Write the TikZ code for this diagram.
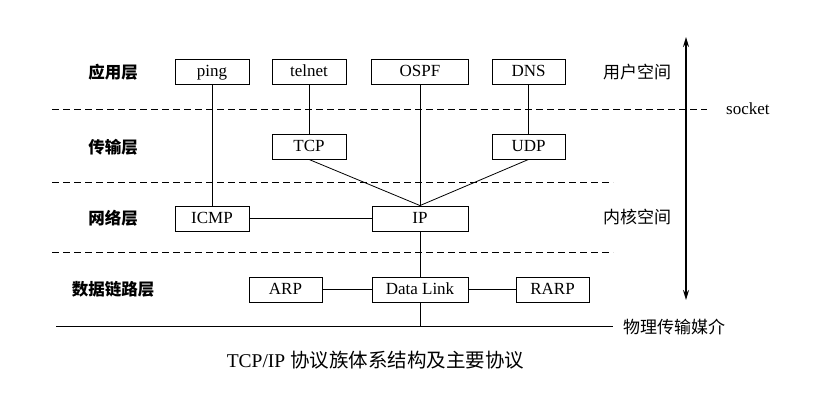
\documentclass[tikz,border=0pt]{standalone}
\usepackage{fontspec}
\setmainfont{Liberation Serif}
\newfontfamily\cjk{Noto Sans CJK SC}
\usetikzlibrary{arrows.meta}
\tikzset{
  proto/.style={draw, line width=0.9pt, minimum height=25pt, minimum width=74pt, inner sep=0pt,
    text height=14pt, text depth=3.6pt, font=\fontsize{17}{20}\selectfont},
  layer/.style={font=\cjk\bfseries\fontsize{16.5}{20}\selectfont, inner sep=0pt},
  space/.style={font=\cjk\fontsize{17}{20}\selectfont, inner sep=0pt},
  sep/.style={dashed, dash pattern=on 7pt off 4pt, line width=0.9pt},
  link/.style={line width=0.8pt}
}
\begin{document}
\begin{tikzpicture}[x=1pt,y=-1pt]
\useasboundingbox (0,0) rectangle (813,405);
% layer separators
\draw[sep] (52,109) -- (707,109);
\draw[sep] (52,182) -- (613,182);
\draw[sep] (52,252) -- (613,252);
% protocol boxes
\node[proto] (ping) at (212,71.5) {ping};
\node[proto] (telnet) at (309,71.5) {telnet};
\node[proto, minimum width=97pt] (ospf) at (420,71.5) {OSPF};
\node[proto, minimum width=73pt] (dns) at (528.5,71.5) {DNS};
\node[proto] (tcp) at (309,146.5) {TCP};
\node[proto, minimum width=73pt] (udp) at (528.5,146.5) {UDP};
\node[proto] (icmp) at (212,218.5) {ICMP};
\node[proto, minimum width=96pt] (ip) at (420,218.5) {IP};
\node[proto, minimum width=73pt] (arp) at (285.5,289.5) {ARP};
\node[proto, minimum width=96pt] (dl) at (420,289.5) {Data Link};
\node[proto, minimum width=73pt] (rarp) at (552.5,289.5) {RARP};
% bottom physical medium line
\coordinate (medL) at (56,326);
\coordinate (medR) at (613,326);
\coordinate (medDL) at (420,326);
\draw[link] (medL) -- (medR);
% connectors
\draw[link] (ping) -- (icmp);
\draw[link] (telnet) -- (tcp);
\draw[link] (ospf) -- (ip);
\draw[link] (dns) -- (udp);
\draw[link] (tcp.south) -- (ip.north);
\draw[link] (udp.south) -- (ip.north);
\draw[link] (icmp) -- (ip);
\draw[link] (ip) -- (dl);
\draw[link] (arp) -- (dl);
\draw[link] (dl) -- (rarp);
\draw[link] (dl) -- (medDL);
% layer labels
\node[layer] (l1) at (113,72) {应用层};
\node[layer] (l2) at (113,147) {传输层};
\node[layer] (l3) at (113,218) {网络层};
\node[layer] (l4) at (113,289) {数据链路层};
% right side
\node[space] (us) at (637,72) {用户空间};
\node[space] (ks) at (637,217) {内核空间};
\node[anchor=west, inner sep=0pt, font=\fontsize{17}{20}\selectfont] (sock) at (726,109) {socket};
\node[space, anchor=west] (phy) at (623,327) {物理传输媒介};
\coordinate (atop) at (686,37);
\coordinate (abot) at (686,300);
\draw[line width=1.6pt, {Stealth[length=10pt,width=6pt]}-{Stealth[length=10pt,width=6pt]}] (atop) -- (abot);
% caption
\node[inner sep=0pt, font=\fontsize{19.5}{22}\selectfont] (cap) at (375.5,360) {TCP/IP {\cjk 协议族体系结构及主要协议}};
\end{tikzpicture}
\end{document}
